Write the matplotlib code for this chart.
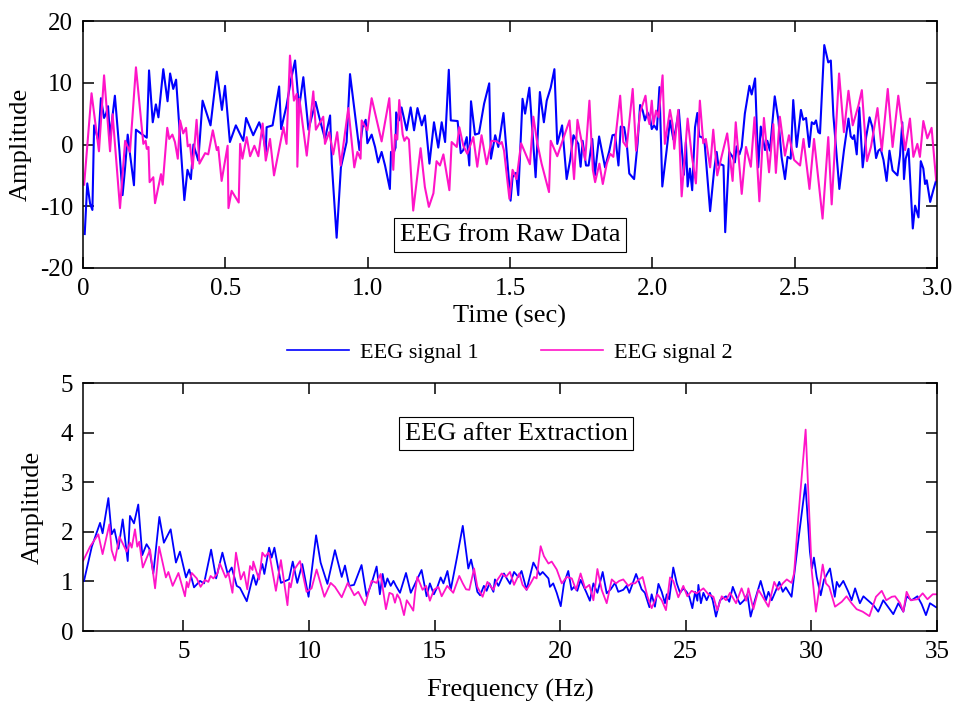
import matplotlib
matplotlib.use("Agg")
import matplotlib.pyplot as plt
from matplotlib.lines import Line2D

plt.rcParams['font.family'] = ['Liberation Serif', 'DejaVu Serif']
plt.rcParams['axes.unicode_minus'] = False

# ---------------- data: raw EEG (time domain) ----------------
time_1 = [0.006,0.015,0.025,0.033,0.039,0.054,0.063,0.074,0.081,0.088,0.095,0.112,0.128,0.139,0.148,0.157,0.165,0.179,0.186,0.206,
          0.224,0.232,0.245,0.256,0.265,0.282,0.297,0.306,0.317,0.327,0.341,0.356,0.367,0.379,0.388,0.405,0.420,0.448,0.470,0.488,
          0.499,0.516,0.537,0.563,0.573,0.598,0.619,0.631,0.642,0.645,0.666,0.689,0.696,0.715,0.731,0.745,0.759,0.774,0.792,0.817,
          0.830,0.850,0.868,0.874,0.891,0.906,0.926,0.938,0.952,0.971,0.982,0.993,0.999,
          1.014,1.026,1.037,1.049,1.061,1.078,1.082,1.090,1.098,1.100,1.110,1.119,1.137,1.151,1.163,1.175,1.190,1.201,1.217,1.233,
          1.248,1.260,1.272,1.285,1.292,1.316,1.327,1.336,1.348,1.357,1.363,1.377,1.391,1.409,1.427,1.433,1.448,1.459,1.477,1.502,
          1.509,1.521,1.529,1.544,1.553,1.568,1.590,1.605,1.619,1.629,1.643,1.656,1.666,1.683,1.699,1.711,1.723,1.740,1.748,1.755,
          1.767,1.776,1.789,1.798,1.813,1.834,1.849,1.860,1.869,1.881,1.889,1.901,1.910,1.919,1.936,1.948,1.957,1.966,1.974,1.983,1.992,
          1.998,2.006,2.016,2.025,2.035,2.050,2.062,2.074,2.082,2.093,2.103,2.111,2.118,2.124,2.132,2.140,2.150,2.158,2.165,2.174,
          2.183,2.203,2.217,2.226,2.232,2.240,2.250,2.256,2.270,2.282,2.290,2.296,2.306,2.314,2.325,2.341,2.349,2.361,2.372,2.381,
          2.396,2.404,2.413,2.430,2.443,2.454,2.466,2.475,2.486,2.495,2.507,2.522,2.530,2.540,2.551,2.560,2.568,2.575,2.583,2.589,
          2.604,2.618,2.627,2.636,2.657,2.673,2.689,2.697,2.704,2.709,2.718,2.727,2.739,2.751,2.763,2.773,2.777,2.786,2.794,2.802,
          2.812,2.823,2.833,2.844,2.861,2.870,2.878,2.884,2.890,2.900,2.915,2.923,2.935,2.943,2.952,2.958,2.964,2.976,2.987,2.997]
signal_1 = [-14.5,-6.3,-9.6,-10.6,3.1,0.6,7.5,4.3,5.0,6.2,1.2,7.9,-1.0,-8.2,-3.7,1.6,-1.5,-6.6,2.4,1.7,
            1.1,12.0,3.6,6.5,4.4,12.2,7.0,11.5,9.0,10.5,1.2,-9.0,-4.1,-5.6,0.0,-2.6,7.1,3.1,11.8,5.6,
            9.5,0.4,3.1,0.6,4.3,1.5,3.6,2.0,-1.2,2.8,3.1,9.4,2.5,6.3,10.6,13.6,5.9,10.9,2.4,6.9,
            4.4,0.9,4.7,-3.1,-15.1,-3.7,0.4,11.4,6.2,-0.9,2.8,4.0,0.2,
            1.6,-0.4,-2.9,-1.2,-3.4,-7.2,-1.2,-1.5,-0.5,5.2,3.9,6.0,2.3,6.0,2.3,5.9,3.1,4.7,-3.1,3.6,
            -0.5,3.6,0.4,12.1,3.9,3.8,-1.4,-0.9,1.2,-3.4,7.0,1.6,1.8,6.6,9.9,-2.3,1.5,-0.4,5.1,-9.1,
            -5.3,-4.6,-8.2,7.4,5.0,9.2,-5.3,8.5,3.6,7.1,9.2,12.2,0.1,3.1,-5.6,-2.6,1.5,0.1,-3.6,0.6,
            -3.4,-3.4,0.9,-5.0,1.3,-3.7,-1.0,1.5,1.6,-3.4,2.9,2.8,0.2,-4.7,-5.6,0.1,6.4,5.5,3.9,5.2,4.4,
            2.5,3.1,2.4,9.3,-6.8,-1.0,3.9,0.8,2.4,5.6,-0.4,-4.9,0.4,-6.8,-3.9,-7.4,2.8,5.1,1.3,1.2,
            0.6,-10.8,-4.2,-1.2,-3.4,-3.2,-3.4,-14.2,-1.2,-2.0,-2.9,-0.3,-1.6,-0.4,5.0,9.5,8.1,10.7,-3.7,2.9,
            -0.9,0.6,-1.0,7.8,3.9,-2.0,-5.6,-2.0,-2.3,7.2,-0.4,5.6,4.0,4.3,-0.4,3.6,3.3,3.9,2.0,1.8,
            16.1,13.3,13.6,4.7,-7.2,-1.0,4.2,1.3,0.9,1.5,-1.6,6.0,-3.7,1.2,4.4,2.8,1.5,-2.2,-1.0,-0.7,
            -2.5,-5.9,-1.0,-4.2,-5.0,-1.8,3.6,-5.6,-2.3,-0.7,-13.6,-9.9,-11.8,-2.7,-3.9,-6.4,-5.8,-9.3,-7.4,-5.8]

time_2 = [0.004,0.030,0.056,0.074,0.095,0.104,0.130,0.148,0.165,0.186,0.212,0.220,0.224,0.230,0.234,0.247,0.253,0.274,0.280,0.296,
          0.303,0.314,0.323,0.333,0.341,0.352,0.362,0.368,0.376,0.385,0.399,0.409,0.429,0.440,0.456,0.470,0.475,0.487,0.508,0.511,
          0.522,0.547,0.552,0.560,0.575,0.587,0.602,0.616,0.631,0.642,0.657,0.671,0.704,0.715,0.727,0.741,0.751,0.753,0.760,0.786,
          0.809,0.818,0.844,0.850,0.865,0.879,0.893,0.905,0.932,0.953,0.964,0.975,0.979,
          0.999,1.014,1.049,1.076,1.090,1.096,1.104,1.111,1.123,1.129,1.137,1.145,1.160,1.186,1.201,1.215,1.231,1.242,1.254,1.266,
          1.287,1.295,1.313,1.322,1.336,1.350,1.371,1.385,1.400,1.418,1.435,1.453,1.465,1.471,1.479,1.498,1.509,1.523,1.539,1.570,
          1.582,1.596,1.611,1.637,1.643,1.666,1.709,1.725,1.737,1.752,1.764,1.779,1.791,1.799,1.814,1.826,1.840,1.852,1.863,1.887,
          1.898,1.910,1.931,1.943,1.957,1.976,1.983,1.990,
          1.998,2.004,2.013,2.022,2.029,2.036,2.044,2.062,2.071,2.077,2.091,2.103,2.124,2.138,2.153,2.167,2.179,2.188,2.203,2.214,
          2.228,2.243,2.263,2.282,2.293,2.314,2.329,2.346,2.359,2.376,2.392,2.410,2.425,2.434,2.448,2.466,2.480,2.498,2.519,2.531,
          2.552,2.568,2.598,2.618,2.630,2.656,2.673,2.689,2.704,2.724,2.736,2.754,2.768,2.791,2.806,2.827,2.844,2.864,2.888,2.905,
          2.917,2.931,2.940,2.952,2.966,2.981,2.997]
signal_2 = [-6.5,8.3,-1.1,11.2,-1.1,4.9,-10.3,0.6,-1.2,12.5,0.1,0.6,-0.7,-0.4,-6.1,-5.3,-9.5,-4.8,-6.5,2.7,
            0.9,1.6,0.4,-2.3,3.9,1.8,2.7,-0.3,0.0,-3.9,4.0,-3.1,-1.4,-1.6,2.3,-0.9,-0.4,-5.9,-0.2,-10.3,
            -7.5,-9.4,0.1,-2.3,1.2,-1.9,-0.2,-1.9,3.4,-2.6,0.9,-5.0,2.8,0.1,14.4,7.1,8.2,-3.6,7.4,-1.8,
            8.6,2.4,4.5,0.1,2.0,-1.6,2.0,-3.4,5.9,-3.7,-1.2,-2.3,3.9,
            2.3,7.5,0.5,7.5,-4.1,1.6,0.8,7.2,1.6,0.6,1.2,0.8,-10.7,-0.6,-6.9,-10.1,-7.9,-2.7,-3.4,-1.6,
            -7.4,0.4,-0.4,2.8,-0.2,-1.5,1.2,-3.6,1.5,-3.2,0.6,0.5,0.1,0.4,-1.0,-8.8,-4.1,-5.6,0.2,-3.2,
            4.5,0.2,-3.1,-7.7,0.6,-1.9,3.9,-5.6,4.0,0.4,-2.5,7.1,-4.1,-6.1,-3.1,-6.4,-3.1,-1.5,-2.0,7.9,
            0.4,-0.4,9.0,-1.0,5.2,7.9,4.7,3.3,
            7.1,3.3,5.5,4.4,7.9,11.2,0.1,5.6,3.3,-0.7,5.6,-8.4,4.2,-1.6,-6.3,7.1,0.2,0.9,-3.7,2.4,
            -5.0,-2.0,1.8,-5.9,3.6,-8.0,-0.4,-3.6,4.4,-9.2,4.3,-4.5,3.3,-4.6,4.5,-1.8,1.5,-2.5,-3.4,0.9,
            -7.2,0.9,-12.0,1.2,-9.7,11.5,2.0,8.7,3.1,6.3,8.8,-2.7,-0.4,5.9,-1.0,9.0,-0.4,7.9,-0.9,4.2,
            -2.0,0.1,-2.0,3.8,1.0,2.7,-5.8]

# ---------------- data: after extraction (frequency domain) ----------------
freq_1 = [1.04,1.35,1.68,1.78,2.01,2.14,2.25,2.41,2.58,2.78,2.87,3.03,3.20,3.36,3.53,3.64,3.80,4.04,4.22,4.49,
          4.70,4.86,5.10,5.23,5.42,5.66,5.82,6.10,6.30,6.55,6.76,6.92,7.12,7.25,7.52,7.78,7.89,8.14,8.22,8.41,
          8.51,8.62,8.88,9.20,9.35,9.53,9.73,9.98,10.28,10.46,10.73,11.03,11.30,11.43,11.60,11.79,12.09,
          12.29,12.49,12.69,12.82,12.93,13.02,13.12,13.25,13.36,13.46,13.62,13.86,14.05,14.22,14.48,14.58,14.68,14.81,14.97,15.11,
          15.24,15.35,15.51,15.64,15.88,16.12,16.34,16.45,16.54,16.70,16.81,16.96,17.07,17.18,17.34,17.40,17.54,17.76,17.87,18.00,
          18.16,18.33,18.46,18.66,18.93,19.09,19.19,19.30,19.53,19.59,19.72,19.86,20.02,20.15,20.32,20.45,20.55,20.68,20.81,21.03,
          21.18,21.32,21.48,21.69,21.85,22.01,22.18,22.31,22.51,22.64,22.75,23.02,23.24,23.37,23.55,
          23.64,23.77,23.91,24.04,24.17,24.24,24.34,24.50,24.64,24.77,24.90,25.03,25.14,25.26,25.37,25.46,25.50,
          25.60,25.70,25.83,25.96,26.07,26.20,26.36,26.47,26.60,26.73,26.87,27.02,27.16,27.32,27.45,27.58,27.75,27.98,28.19,28.29,
          28.42,28.62,28.72,28.86,28.98,29.11,29.21,29.48,29.76,29.94,30.02,30.10,30.21,30.37,30.50,30.74,30.93,31.01,31.11,31.27,
          31.47,31.60,31.74,31.93,32.07,32.20,32.47,32.66,32.86,33.26,33.46,33.66,33.79,33.99,34.22,34.39,34.56,34.72,34.96]
spectrum_1 = [1.01,1.70,2.18,1.97,2.68,1.95,2.05,1.66,2.25,1.41,2.32,2.17,2.55,1.53,1.75,1.66,1.16,2.30,1.78,2.05,
              1.38,1.60,1.08,1.24,0.88,1.01,0.96,1.64,1.06,1.58,1.15,1.28,0.91,0.87,0.60,1.13,0.93,1.35,1.15,1.68,
              1.48,1.68,0.97,1.04,1.40,0.97,1.35,0.69,1.93,1.38,0.95,1.63,1.09,1.32,0.91,0.93,1.33,
              0.70,0.96,1.30,0.74,1.15,0.89,1.06,0.91,1.01,0.91,0.77,1.17,0.77,0.95,1.23,0.96,0.70,0.96,0.74,0.89,
              1.08,0.96,1.21,0.83,1.46,2.12,1.26,1.44,1.23,0.79,0.72,0.91,0.81,0.96,0.79,1.04,0.91,1.16,1.06,0.95,
              1.19,1.09,1.21,0.83,1.38,1.23,1.13,1.19,1.06,0.89,0.96,0.77,0.50,0.96,1.21,0.83,0.89,0.81,1.03,0.79,
              0.61,0.96,0.77,1.19,0.76,0.84,0.97,0.79,0.83,0.91,0.77,1.15,0.84,0.77,0.48,
              0.74,0.49,0.95,0.79,0.56,0.74,0.64,1.28,0.96,0.77,0.86,0.79,0.69,0.46,0.79,0.61,0.93,
              0.56,0.77,0.62,0.77,0.62,0.29,0.62,0.66,0.70,0.59,0.89,0.69,0.54,0.62,0.74,0.29,0.62,1.01,0.62,0.79,
              0.62,0.86,0.99,0.79,0.88,0.77,0.69,1.83,2.96,1.60,1.26,1.48,1.09,0.72,1.03,1.26,0.69,0.99,0.89,1.01,
              0.79,0.62,0.86,0.56,0.70,0.64,0.52,0.39,0.62,0.34,0.56,0.39,0.70,0.62,0.70,0.54,0.32,0.56,0.48]

freq_2 = [1.01,1.28,1.61,1.78,2.05,2.14,2.27,2.45,2.74,2.87,2.94,3.07,3.16,3.24,3.38,3.67,3.87,4.03,4.30,4.40,
          4.57,4.80,5.06,5.13,5.19,5.33,5.53,5.68,5.86,5.99,6.08,6.19,6.35,6.45,6.68,6.79,6.95,7.09,7.28,7.41,
          7.54,7.65,7.75,7.78,7.91,8.01,8.14,8.25,8.38,8.44,8.68,8.88,9.14,9.21,9.27,9.40,9.64,9.90,10.10,10.30,
          10.61,10.86,11.03,11.30,11.54,11.80,11.96,12.23,12.40,
          12.49,12.69,12.85,13.06,13.20,13.33,13.42,13.51,13.62,13.78,13.89,14.02,14.15,14.22,14.31,14.52,14.66,
          14.81,14.97,15.15,15.28,15.50,15.74,15.98,16.12,16.25,16.38,16.57,16.70,16.91,17.10,17.34,17.47,17.67,17.84,18.00,18.16,
          18.37,18.50,18.66,18.82,18.96,19.06,19.22,19.35,19.53,19.66,19.86,20.06,20.26,20.46,20.63,20.81,20.99,21.16,21.32,21.48,
          21.65,21.85,22.05,22.22,22.35,22.51,22.71,22.84,22.98,23.11,23.28,23.47,
          23.64,23.87,24.04,24.21,24.37,24.50,24.70,24.90,25.06,25.23,25.43,25.70,25.90,26.10,26.25,26.43,26.60,26.76,
          27.00,27.22,27.40,27.49,27.69,27.89,28.06,28.29,28.52,28.68,28.86,29.02,29.21,29.31,29.48,29.77,30.01,30.18,30.45,30.58,
          30.71,30.94,31.21,31.40,31.60,31.80,32.04,32.31,32.57,32.80,32.98,33.20,33.33,33.53,33.66,33.79,33.95,34.22,34.43,34.62,
          34.83,34.99]
spectrum_2 = [1.42,1.70,1.95,1.55,2.15,1.63,1.42,1.90,1.60,1.78,1.68,2.05,1.70,1.80,1.28,1.64,0.86,1.70,1.08,1.19,
              0.91,1.17,0.70,0.99,0.88,1.17,1.06,0.89,1.03,0.99,1.11,1.06,1.16,1.36,1.08,1.17,0.77,1.58,1.04,1.19,
              0.84,1.31,1.23,1.40,1.19,1.04,1.58,1.50,1.58,1.50,0.81,1.43,0.52,0.97,0.88,1.23,1.41,0.79,0.86,1.24,
              0.69,0.97,0.89,0.68,0.97,0.72,0.79,0.52,0.84,
              1.01,0.97,1.15,0.44,0.77,0.74,0.57,0.74,0.64,0.32,0.62,0.52,0.41,0.77,1.09,0.83,0.91,
              0.61,0.83,0.89,0.70,0.91,0.77,1.11,0.96,0.84,0.83,1.26,0.89,0.69,0.99,0.83,1.01,1.16,1.09,1.19,0.93,
              1.16,0.93,0.83,0.96,1.09,1.06,1.71,1.51,1.36,1.40,1.24,0.96,1.09,1.06,0.83,1.16,0.86,0.93,0.62,1.25,
              0.83,0.56,1.04,0.96,1.01,1.04,0.91,0.96,0.96,1.03,1.09,0.70,
              0.46,0.74,0.62,0.42,1.08,1.01,0.68,0.91,0.70,0.81,0.76,0.86,0.74,0.69,0.42,0.70,0.62,0.77,
              0.56,0.86,0.61,0.86,0.44,0.83,0.69,0.49,0.99,0.83,0.96,1.04,0.97,1.16,2.30,4.06,1.23,0.39,1.34,0.96,
              0.89,0.49,0.59,0.70,0.56,0.44,0.39,0.30,0.69,0.81,0.62,0.69,0.70,0.56,0.39,0.79,0.62,0.64,0.76,0.64,
              0.74,0.74]

time_ticks = [0, 0.5, 1.0, 1.5, 2.0, 2.5, 3.0]
time_labels = ['0', '0.5', '1.0', '1.5', '2.0', '2.5', '3.0']
amp_ticks = [-20, -10, 0, 10, 20]
freq_ticks = [5, 10, 15, 20, 25, 30, 35]
spec_ticks = [0, 1, 2, 3, 4, 5]
series_names = ['EEG signal 1', 'EEG signal 2']

BLUE = '#0000FF'
PINK = '#FF14C8'
FS = 18

fig = plt.figure(figsize=(9.54, 7.08), dpi=100)
W, H = 954.0, 708.0
ax1 = fig.add_axes([83 / W, 1 - 268 / H, 854 / W, 247 / H])
ax2 = fig.add_axes([83 / W, 1 - 631 / H, 854 / W, 248 / H])

ax1.plot(time_1, signal_1, color=BLUE, lw=1.5)
ax1.plot(time_2, signal_2, color=PINK, lw=1.5)
ax1.set_xlim(0, 3.0)
ax1.set_ylim(-20, 20)
ax1.set_xticks(time_ticks)
ax1.set_xticklabels(time_labels)
ax1.set_yticks(amp_ticks)
ax1.set_xlabel('Time (sec)', fontsize=FS + 1, labelpad=4)
ax1.set_ylabel('Amplitude', fontsize=FS + 1, labelpad=6)
ax1.text(0.5, 0.134, 'EEG from Raw Data', transform=ax1.transAxes, ha='center', va='center',
         fontsize=FS + 1, bbox=dict(boxstyle='square,pad=0.22', fc='white', ec='black', lw=0.8))

ax2.plot(freq_1, spectrum_1, color=BLUE, lw=1.3)
ax2.plot(freq_2, spectrum_2, color=PINK, lw=1.3)
ax2.set_xlim(1, 35)
ax2.set_ylim(0, 5)
ax2.set_xticks(freq_ticks)
ax2.set_yticks(spec_ticks)
ax2.set_xlabel('Frequency (Hz)', fontsize=FS + 1, labelpad=12)
ax2.set_ylabel('Amplitude', fontsize=FS + 1, labelpad=12)
ax2.text(0.507, 0.796, 'EEG after Extraction', transform=ax2.transAxes, ha='center', va='center',
         fontsize=FS + 1, bbox=dict(boxstyle='square,pad=0.22', fc='white', ec='black', lw=0.8))

for ax in (ax1, ax2):
    ax.tick_params(direction='in', top=True, right=True, length=8, width=1.1,
                   labelsize=FS, pad=7)
    for s in ax.spines.values():
        s.set_linewidth(1.1)

handles = [Line2D([], [], color=BLUE, lw=1.2), Line2D([], [], color=PINK, lw=1.2)]
fig.legend(handles, series_names, loc='center', bbox_to_anchor=(510 / W, 1 - 353 / H),
           ncol=2, frameon=False, fontsize=16, handlelength=2.8, handletextpad=0.5,
           columnspacing=2.8)

fig.savefig('out.png', dpi=100)
